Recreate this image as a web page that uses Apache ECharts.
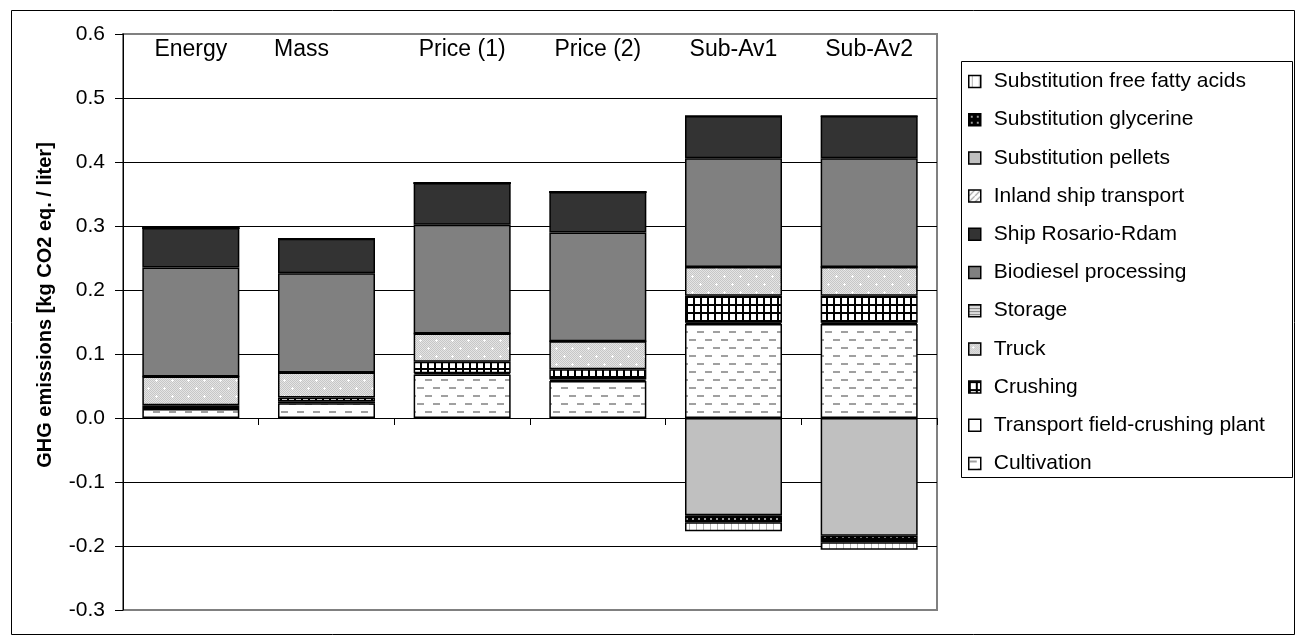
<!DOCTYPE html>
<html>
<head>
<meta charset="utf-8">
<script src="https://cdn.jsdelivr.net/npm/echarts@6/dist/echarts.min.js"></script>
<style>
html,body{margin:0;padding:0;background:#fff;}
#chart{width:1296px;height:640px;}
</style>
</head>
<body>
<div id="chart"></div>
<script>
// ---- data ----
const categories = ['Energy', 'Mass', 'Price (1)', 'Price (2)', 'Sub-Av1', 'Sub-Av2'];
const cultivation     = [0.014, 0.023, 0.068, 0.058, 0.147, 0.147];
const transportField  = [0.003, 0.003, 0.002, 0.002, 0.002, 0.002];
const crushing        = [0.003, 0.006, 0.018, 0.016, 0.042, 0.042];
const truck           = [0.045, 0.039, 0.044, 0.044, 0.045, 0.045];
const storage         = [0, 0, 0, 0, 0, 0];
const biodiesel       = [0.170, 0.155, 0.170, 0.170, 0.170, 0.170];
const shipRosario     = [0.062, 0.054, 0.065, 0.063, 0.066, 0.066];
const inlandShip      = [0, 0, 0, 0, 0, 0];
const subPellets      = [0, 0, 0, 0, -0.152, -0.184];
const subGlycerine    = [0, 0, 0, 0, -0.011, -0.010];
const subFFA          = [0, 0, 0, 0, -0.014, -0.012];
const yMin = -0.3, yMax = 0.6, yStep = 0.1;
const yTitle = 'GHG emissions [kg CO2 eq. / liter]';

// ---- pattern tiles ----
function tile(w, h, draw) {
  const c = document.createElement('canvas');
  c.width = w; c.height = h;
  const g = c.getContext('2d');
  draw(g, w, h);
  return { image: c, repeat: 'repeat' };
}
const pat = {
  cultivation: tile(16, 16, (g, w, h) => {
    g.fillStyle = '#fff'; g.fillRect(0, 0, w, h);
    g.fillStyle = '#a0a0a0';
    g.fillRect(1, 3, 7, 2); g.fillRect(9, 11, 7, 2);
  }),
  transport: tile(8, 8, (g, w, h) => {
    g.fillStyle = '#fff'; g.fillRect(0, 0, w, h);
  }),
  crushing: tile(7, 8, (g, w, h) => {
    g.fillStyle = '#fff'; g.fillRect(0, 0, w, h);
    g.fillStyle = '#000';
    g.fillRect(0, 0, 2, h); g.fillRect(0, 0, w, 2);
  }),
  truck: tile(16, 16, (g, w, h) => {
    for (let i = 0; i < w; i++) for (let j = 0; j < h; j++) {
      g.fillStyle = ((i + j) % 2 === 0) ? '#c6c6c6' : '#e4e4e4';
      g.fillRect(i, j, 1, 1);
    }
    g.fillStyle = '#fff';
    g.fillRect(3, 4, 3, 1); g.fillRect(4, 3, 1, 3);
    g.fillRect(11, 12, 3, 1); g.fillRect(12, 11, 1, 3);
  }),
  storage: tile(4, 3, (g, w, h) => {
    g.fillStyle = '#fff'; g.fillRect(0, 0, w, h);
    g.fillStyle = '#777'; g.fillRect(0, 0, w, 1);
    g.fillStyle = '#c8c8c8'; g.fillRect(0, 1, w, 1);
  }),
  inland: tile(6, 6, (g, w, h) => {
    g.fillStyle = '#fff'; g.fillRect(0, 0, w, h);
    g.strokeStyle = '#999'; g.lineWidth = 1.2;
    g.beginPath(); g.moveTo(-1, 7); g.lineTo(7, -1); g.stroke();
  }),
  glycerine: tile(6, 6, (g, w, h) => {
    g.fillStyle = '#000'; g.fillRect(0, 0, w, h);
    g.fillStyle = '#9a9a9a'; g.fillRect(2, 2, 2, 2);
  }),
  ffa: tile(7, 7, (g, w, h) => {
    g.fillStyle = '#fff'; g.fillRect(0, 0, w, h);
    g.fillStyle = '#b4b4b4'; g.fillRect(3, 0, 1, h);
  })
};

const seriesDefs = [
  ['Cultivation', cultivation, pat.cultivation],
  ['Transport field-crushing plant', transportField, pat.transport],
  ['Crushing', crushing, pat.crushing],
  ['Truck', truck, pat.truck],
  ['Storage', storage, pat.storage],
  ['Biodiesel processing', biodiesel, '#808080'],
  ['Ship Rosario-Rdam', shipRosario, '#333333'],
  ['Inland ship transport', inlandShip, pat.inland],
  ['Substitution pellets', subPellets, '#c0c0c0'],
  ['Substitution glycerine', subGlycerine, pat.glycerine],
  ['Substitution free fatty acids', subFFA, pat.ffa]
];

const FONT = 'Liberation Sans, Arial, sans-serif';
const splitColors = [];
for (let v = yMin, i = 0; v <= yMax + 1e-9; v += yStep, i++) splitColors.push('#000');
splitColors[0] = '#808080'; splitColors[splitColors.length - 1] = '#808080';

// label nudges for the top category captions (style only)
const catRich = {
  n: { fontSize: 23, color: '#000', fontFamily: FONT },
  l: { fontSize: 23, color: '#000', fontFamily: FONT, padding: [0, 50, 0, 0] }
};

const chart = echarts.init(document.getElementById('chart'), null, { renderer: 'canvas' });
chart.setOption({
  animation: false,
  backgroundColor: '#fff',
  textStyle: { fontFamily: FONT },
  grid: { left: 123, right: 359, top: 34, bottom: 30, show: true, borderColor: '#808080', borderWidth: 2, backgroundColor: 'transparent' },
  legend: {
    orient: 'vertical', left: 963, top: 66,
    itemWidth: 12, itemHeight: 12, itemGap: 17.2,
    selectedMode: false,
    icon: 'rect',
    data: seriesDefs.map(d => d[0]).reverse(),
    textStyle: { fontSize: 21, color: '#000', fontFamily: FONT, lineHeight: 20, padding: [0, 0, 0, 8] },
    itemStyle: { borderColor: '#000', borderWidth: 1.5 }
  },
  xAxis: [
    {
      type: 'category', data: categories, position: 'bottom',
      axisLine: { onZero: true, lineStyle: { color: '#000', width: 1 } },
      axisTick: { show: true, length: 7, lineStyle: { color: '#000' } },
      axisLabel: { show: false }, splitLine: { show: false }
    },
    {
      type: 'category', data: categories, position: 'top', gridIndex: 0,
      axisLine: { show: false, onZero: false }, axisTick: { show: false },
      axisLabel: {
        show: true, inside: true, margin: 4, interval: 0, hideOverlap: false,
        fontSize: 23, color: '#000', fontFamily: FONT,
        formatter: (v, i) => (i === 1 ? '{l|' + v + '}' : '{n|' + v + '}'),
        rich: catRich
      },
      splitLine: { show: false }
    }
  ],
  yAxis: {
    type: 'value', min: yMin, max: yMax, interval: yStep,
    name: yTitle, nameLocation: 'middle', nameGap: 68,
    nameTextStyle: { fontSize: 20, fontWeight: 'bold', color: '#000', fontFamily: FONT, padding: [0, 0, 0, 34] },
    axisLine: { show: true, lineStyle: { color: '#000', width: 1 } },
    axisTick: { show: true, length: 8, lineStyle: { color: '#000' } },
    axisLabel: { fontSize: 21, color: '#000', margin: 18, fontFamily: FONT, formatter: v => v.toFixed(1) },
    splitLine: { show: true, lineStyle: { color: splitColors, width: 1 } }
  },
  graphic: [
    { type: 'rect', silent: true, z: 100, shape: { x: 11.5, y: 10.5, width: 1283, height: 624 }, style: { fill: 'none', stroke: '#000', lineWidth: 1 } },
    { type: 'rect', silent: true, z: 100, shape: { x: 961.5, y: 61.5, width: 331, height: 416 }, style: { fill: 'none', stroke: '#000', lineWidth: 1 } }
  ],
  series: seriesDefs.map(d => ({
    name: d[0], type: 'bar', stack: 'total', data: d[1],
    barWidth: '71.5%',
    itemStyle: { color: d[2], borderColor: '#000', borderWidth: 1.5 },
    emphasis: { disabled: true }
  }))
});
</script>
</body>
</html>
